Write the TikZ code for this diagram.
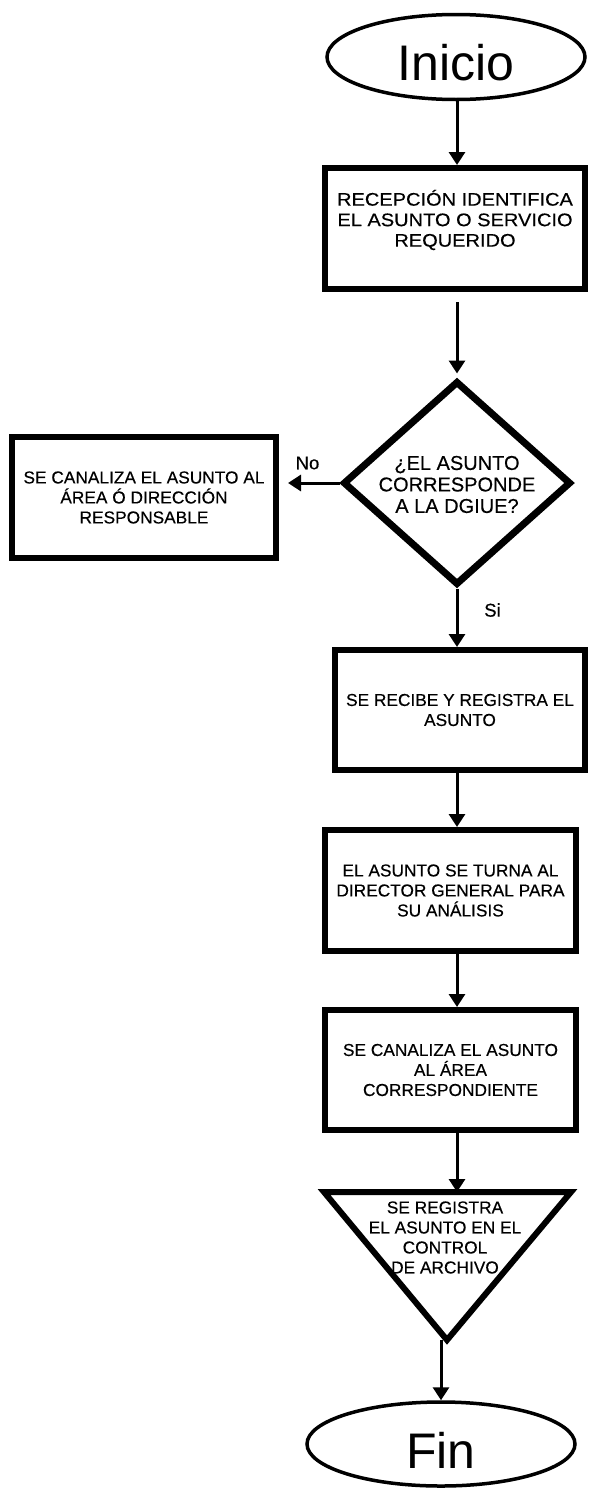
\documentclass[tikz,border=0pt]{standalone}
\usepackage{fontspec}
\setmainfont{Liberation Sans}
\newfontfamily\stepfont[FakeBold=0.35]{Liberation Sans}
\newfontfamily\widestepfont[FakeStretch=1.1,FakeBold=0.35]{Liberation Sans}
\usetikzlibrary{shapes.geometric,arrows.meta}

\begin{document}
\begin{tikzpicture}[x=1pt,y=-1pt,
  terminal/.style={draw,ellipse,line width=3.5pt,inner sep=0pt,
    font=\fontsize{50}{60}\selectfont},
  process/.style={draw,rectangle,line width=6pt,inner sep=0pt,align=center,
    font=\stepfont\fontsize{17.3}{20}\selectfont},
  decision/.style={draw,diamond,line width=7pt,inner sep=0pt},
  flowtext/.style={align=center,inner sep=0pt,
    font=\stepfont\fontsize{17.3}{20}\selectfont},
  tag/.style={inner sep=0pt,font=\stepfont\fontsize{18.5}{20}\selectfont},
  flow/.style={line width=3pt,-{Triangle[length=13pt,width=16pt]}},
]
\fill[white] (0,0) rectangle (589,1491);
\useasboundingbox (0,0) rectangle (589,1491);

% main vertical axis of the flow
\coordinate (axis) at (457,0);

% start / end terminals
\node[terminal,minimum width=258pt,minimum height=85pt,text height=46pt,text depth=0pt]
  (inicio) at (456,57) {Inicio};
\node[terminal,minimum width=268pt,minimum height=84pt,text height=48pt,text depth=0pt]
  (fin) at (441,1444) {Fin};

% process steps
\node[process,font=\widestepfont\fontsize{18.2}{20.5}\selectfont,
  minimum width=260pt,minimum height=121pt] (recep) at (455,228.5)
  {RECEPCIÓN IDENTIFICA\\EL ASUNTO O SERVICIO\\REQUERIDO\\\mbox{}};

\node[decision,minimum width=228pt,minimum height=204pt] (dec) at (457,483) {};
\node[flowtext,font=\stepfont\fontsize{20}{21.5}\selectfont] (dectext) at (457,484.5)
  {¿EL ASUNTO\\CORRESPONDE\\A LA DGIUE?};

\node[process,minimum width=264pt,minimum height=121pt] (canal) at (144,497.5)
  {SE CANALIZA EL ASUNTO AL\\ÁREA Ó DIRECCIÓN\\RESPONSABLE};

\node[process,minimum width=250pt,minimum height=120pt] (registro) at (460,710)
  {SE RECIBE Y REGISTRA EL\\ASUNTO};

\node[process,minimum width=251pt,minimum height=121pt] (turno) at (450.5,890.5)
  {EL ASUNTO SE TURNA AL\\DIRECTOR GENERAL PARA\\SU ANÁLISIS};

\node[process,minimum width=251pt,minimum height=120pt] (area) at (450.5,1070)
  {SE CANALIZA EL ASUNTO\\AL ÁREA\\CORRESPONDIENTE};

% archive (inverted triangle)
\coordinate (triTL) at (324,1192);
\coordinate (triTR) at (571,1192);
\coordinate (triB) at (447,1340);
\draw[line width=6pt,line join=miter] (triTL) -- (triTR) -- (triB) -- cycle;
\node[flowtext] (archivo) at (445,1237.5)
  {SE REGISTRA\\EL ASUNTO EN EL\\CONTROL\\DE ARCHIVO};

% connectors
\draw[flow] (inicio.south -| axis) -- (recep.north -| axis);
\draw[flow,shorten <=10pt,shorten >=4pt] (recep.south -| axis) -- (dec.north);
\draw[flow,shorten >=9pt] (dec.west) -- (canal.east |- dec.west);
\node[tag] (nolbl) at (307.5,463) {No};
\draw[flow] (dec.south) -- (registro.north -| dec.south);
\node[tag] (silbl) at (492.5,610) {Si};
\draw[flow] (registro.south -| axis) -- (turno.north -| axis);
\draw[flow] (turno.south -| axis) -- (area.north -| axis);
\draw[flow] (area.south -| axis) -- (axis |- triTL);
\draw[flow] (fin.north |- triB) -- (fin.north);
\end{tikzpicture}
\end{document}
